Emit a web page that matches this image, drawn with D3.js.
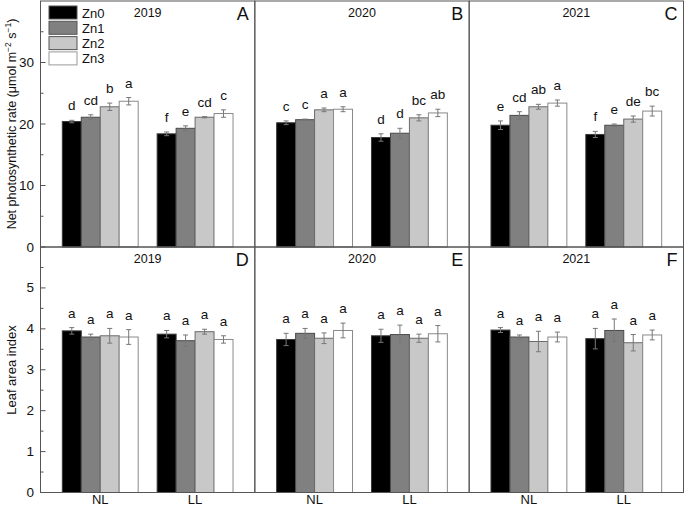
<!DOCTYPE html>
<html>
<head>
<meta charset="utf-8">
<script src="https://cdn.jsdelivr.net/npm/d3@7"></script>
<style>
  html, body { margin: 0; padding: 0; background: #fff; }
  svg { display: block; font-family: "Liberation Sans", Arial, Helvetica, sans-serif; }
</style>
</head>
<body>
<svg id="chart" width="685" height="506"></svg>
<script>
// ---------------- DATA ----------------
const years = ["2019", "2020", "2021"];
const groups = ["NL", "LL"];
const series = ["Zn0", "Zn1", "Zn2", "Zn3"];
const panelLettersTop = ["A", "B", "C"];
const panelLettersBottom = ["D", "E", "F"];

// Net photosynthetic rate: [NL Zn0..Zn3, LL Zn0..Zn3]
const pn2019 = [20.4, 21.1, 22.8, 23.7, 18.4, 19.3, 21.1, 21.7];
const pn2020 = [20.2, 20.7, 22.3, 22.4, 17.8, 18.5, 21.0, 21.8];
const pn2021 = [19.8, 21.4, 22.8, 23.4, 18.3, 19.8, 20.8, 22.1];
const pnErr2019 = [0.2, 0.4, 0.6, 0.6, 0.3, 0.4, 0.1, 0.6];
const pnErr2020 = [0.3, 0.1, 0.3, 0.4, 0.6, 0.8, 0.5, 0.6];
const pnErr2021 = [0.7, 0.6, 0.4, 0.5, 0.5, 0.2, 0.5, 0.8];
const pnLetters2019 = ["d", "cd", "b", "a", "f", "e", "cd", "c"];
const pnLetters2020 = ["c", "c", "a", "a", "d", "d", "bc", "ab"];
const pnLetters2021 = ["e", "cd", "ab", "a", "f", "e", "de", "bc"];

// Leaf area index
const lai2019 = [3.95, 3.80, 3.83, 3.80, 3.87, 3.71, 3.93, 3.74];
const lai2020 = [3.74, 3.89, 3.77, 3.96, 3.83, 3.86, 3.77, 3.88];
const lai2021 = [3.97, 3.80, 3.69, 3.80, 3.76, 3.96, 3.66, 3.85];
const laiErr2019 = [0.08, 0.07, 0.18, 0.18, 0.09, 0.14, 0.06, 0.09];
const laiErr2020 = [0.15, 0.12, 0.13, 0.18, 0.16, 0.23, 0.10, 0.20];
const laiErr2021 = [0.06, 0.05, 0.25, 0.12, 0.25, 0.28, 0.20, 0.12];
const laiLetters = ["a", "a", "a", "a", "a", "a", "a", "a"];

const pnTicks = [0, 10, 20, 30];
const pnMinor = [5, 15, 25, 35];
const laiTicks = [0, 1, 2, 3, 4, 5];
const laiMinor = [0.5, 1.5, 2.5, 3.5, 4.5, 5.5];

const fillColors = ["#000000", "#808080", "#c8c8c8", "#ffffff"];
const strokeColors = ["#3a3a3a", "#4a4a4a", "#6a6a6a", "#8a8a8a"];

// ---------------- LAYOUT ----------------
const svg = d3.select("#chart");
const X0 = 40.5, X1 = 683.5;
const topY = [1, 247];
const botY = [247, 492.5];
const lineCol = "#555";

const xYear = d3.scaleBand().domain(years).range([X0, X1]).padding(0);
const yPn = d3.scaleLinear().domain([0, 40]).range([topY[1], topY[0]]);
const yLai = d3.scaleLinear().domain([0, 6]).range([botY[1], botY[0]]);

const rows = [
  { y: yPn, vals: [pn2019, pn2020, pn2021], errs: [pnErr2019, pnErr2020, pnErr2021],
    letters: [pnLetters2019, pnLetters2020, pnLetters2021], panel: panelLettersTop,
    ticks: pnTicks, minor: pnMinor, range: topY },
  { y: yLai, vals: [lai2019, lai2020, lai2021], errs: [laiErr2019, laiErr2020, laiErr2021],
    letters: [laiLetters, laiLetters, laiLetters], panel: panelLettersBottom,
    ticks: laiTicks, minor: laiMinor, range: botY }
];

rows.forEach((row, ri) => {
  years.forEach((yr, yi) => {
    const px = xYear(yr);
    const pw = xYear.bandwidth();
    const g = svg.append("g");
    const xGroup = d3.scaleBand().domain(groups).range([px, px + pw])
      .paddingInner(0.2).paddingOuter(0.23);
    const xSeries = d3.scaleBand().domain(series).range([0, xGroup.bandwidth()]).padding(0);

    const data = [];
    groups.forEach((gr, gi) => series.forEach((s, si) => {
      const k = gi * 4 + si;
      data.push({ gr, s, si, v: row.vals[yi][k], e: row.errs[yi][k], l: row.letters[yi][k] });
    }));

    // bars
    g.selectAll("rect.bar").data(data).join("rect")
      .attr("x", d => xGroup(d.gr) + xSeries(d.s))
      .attr("y", d => row.y(d.v))
      .attr("width", xSeries.bandwidth())
      .attr("height", d => row.y(0) - row.y(d.v))
      .attr("fill", d => fillColors[d.si])
      .attr("stroke", d => strokeColors[d.si])
      .attr("stroke-width", 1);

    // error bars
    const cx = d => xGroup(d.gr) + xSeries(d.s) + xSeries.bandwidth() / 2;
    const eb = g.selectAll("g.err").data(data).join("g").attr("stroke", "#777").attr("stroke-width", 1);
    eb.append("line").attr("x1", cx).attr("x2", cx)
      .attr("y1", d => row.y(d.v + d.e)).attr("y2", d => row.y(d.v - d.e));
    eb.append("line").attr("x1", d => cx(d) - 2.5).attr("x2", d => cx(d) + 2.5)
      .attr("y1", d => row.y(d.v + d.e)).attr("y2", d => row.y(d.v + d.e));
    eb.append("line").attr("x1", d => cx(d) - 2.5).attr("x2", d => cx(d) + 2.5)
      .attr("y1", d => row.y(d.v - d.e)).attr("y2", d => row.y(d.v - d.e));

    // significance letters
    g.selectAll("text.sig").data(data).join("text")
      .attr("x", cx)
      .attr("y", d => row.y(d.v + d.e) - 10)
      .attr("text-anchor", "middle")
      .attr("font-size", 13.5)
      .attr("fill", "#111")
      .text(d => d.l);

    // panel frame
    g.append("rect")
      .attr("x", px).attr("y", row.range[0])
      .attr("width", pw).attr("height", row.range[1] - row.range[0])
      .attr("fill", "none").attr("stroke", lineCol).attr("stroke-width", 1);

    // year title and panel letter
    g.append("text").attr("x", px + pw / 2).attr("y", row.range[0] + 16)
      .attr("text-anchor", "middle").attr("font-size", 12.5).attr("fill", "#111").text(yr);
    g.append("text").attr("x", px + pw - 6).attr("y", row.range[0] + 19)
      .attr("text-anchor", "end").attr("font-size", 18).attr("fill", "#111").text(row.panel[yi]);

    // x labels on bottom row
    if (ri === 1) {
      g.selectAll("text.xl").data(groups).join("text")
        .attr("x", d => xGroup(d) + xGroup.bandwidth() / 2)
        .attr("y", 504)
        .attr("text-anchor", "middle").attr("font-size", 13).attr("fill", "#111")
        .text(d => d);
    }
  });

  // y axis
  const ax = svg.append("g");
  ax.selectAll("line.maj").data(row.ticks).join("line")
    .attr("x1", X0).attr("x2", X0 + 5)
    .attr("y1", d => row.y(d)).attr("y2", d => row.y(d))
    .attr("stroke", lineCol);
  ax.selectAll("line.min").data(row.minor).join("line")
    .attr("x1", X0).attr("x2", X0 + 3)
    .attr("y1", d => row.y(d)).attr("y2", d => row.y(d))
    .attr("stroke", lineCol);
  ax.selectAll("text").data(row.ticks).join("text")
    .attr("x", 34).attr("y", d => row.y(d) + 4.5)
    .attr("text-anchor", "end").attr("font-size", 13.5).attr("fill", "#111")
    .text(d => d);
});

// axis titles
const t1 = svg.append("text")
  .attr("transform", "translate(16,124) rotate(-90)")
  .attr("text-anchor", "middle").attr("font-size", 12.5).attr("fill", "#111");
t1.append("tspan").text("Net photosynthetic rate (μmol m");
t1.append("tspan").attr("dy", -5).attr("font-size", 8.5).text("−2");
t1.append("tspan").attr("dy", 5).text(" s");
t1.append("tspan").attr("dy", -5).attr("font-size", 8.5).text("−1");
t1.append("tspan").attr("dy", 5).text(")");

svg.append("text")
  .attr("transform", "translate(16,370) rotate(-90)")
  .attr("text-anchor", "middle").attr("font-size", 13).attr("fill", "#111")
  .text("Leaf area index");

// legend
const lx = 49, ly = 6, lstep = 15.3;
const leg = svg.append("g");
series.forEach((s, i) => {
  leg.append("rect").attr("x", lx).attr("y", ly + i * lstep)
    .attr("width", 28).attr("height", 13)
    .attr("fill", fillColors[i]).attr("stroke", i === 3 ? "#999" : "#555").attr("stroke-width", 1);
  leg.append("text").attr("x", lx + 33).attr("y", ly + i * lstep + 11.5)
    .attr("font-size", 13).attr("fill", "#111").text(s);
});
</script>
</body>
</html>
